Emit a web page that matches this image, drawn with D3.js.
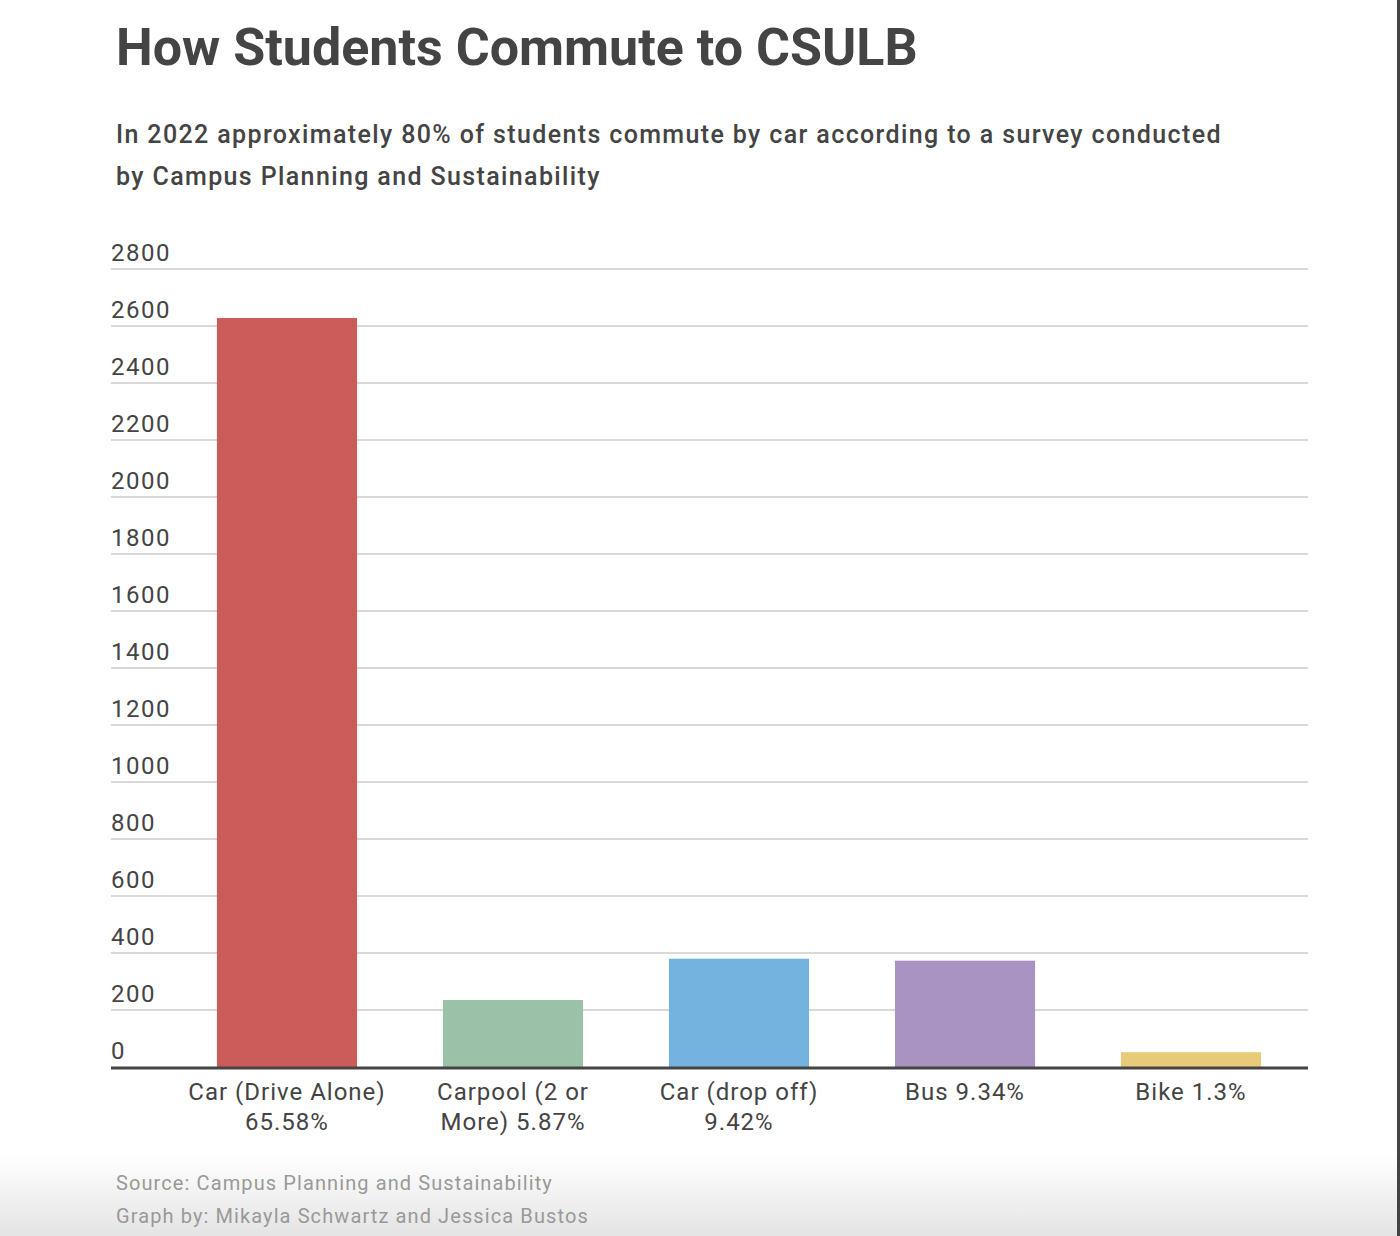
<!DOCTYPE html>
<html><head><meta charset="utf-8">
<script src="https://cdn.jsdelivr.net/npm/d3@7"></script>
<style>
html,body{margin:0;padding:0;background:#fff;}
svg{display:block;font-family:Roboto,"Noto Sans",sans-serif;}
</style></head>
<body>
<svg id="chart" width="1400" height="1236"></svg>
<script>
const categories = ["Car (Drive Alone)\n65.58%", "Carpool (2 or\nMore) 5.87%", "Car (drop off)\n9.42%", "Bus 9.34%", "Bike 1.3%"];
const values = [2628, 235, 380, 373, 52];
const colors = ["#cc5c5a", "#9bc2a8", "#74b3e0", "#a893c2", "#e8cb78"];
const yTicks = [0, 200, 400, 600, 800, 1000, 1200, 1400, 1600, 1800, 2000, 2200, 2400, 2600, 2800];
const title = "How Students Commute to CSULB";
const subtitle = ["In 2022 approximately 80% of students commute by car according to a survey conducted", "by Campus Planning and Sustainability"];
const footer = ["Source: Campus Planning and Sustainability", "Graph by: Mikayla Schwartz and Jessica Bustos"];

const svg = d3.select("#chart");
const defs = svg.append("defs");
const grad = defs.append("linearGradient").attr("id","bg").attr("x1",0).attr("y1",0).attr("x2",0).attr("y2",1);
grad.append("stop").attr("offset","0").attr("stop-color","#ffffff");
grad.append("stop").attr("offset","1").attr("stop-color","#e4e4e4");
svg.append("rect").attr("x",0).attr("y",1155).attr("width",1400).attr("height",81).attr("fill","url(#bg)");
svg.append("rect").attr("x",1397).attr("y",0).attr("width",3).attr("height",1236).attr("fill","#444");

svg.append("text").attr("x",116).attr("y",65).attr("fill","#444").attr("font-size",52).attr("font-weight",700).text(title);
svg.selectAll("text.sub").data(subtitle).join("text").attr("class","sub")
  .attr("x",116).attr("y",(d,i)=>143+i*42).attr("fill","#444").attr("font-size",25).attr("font-weight",500)
  .attr("letter-spacing",1.37).text(d=>d);

const left = 111, right = 1308;
const y = d3.scaleLinear().domain([0,2800]).range([1067,269]);
const x = d3.scaleBand().domain(categories).range([174,1304]).paddingInner(0.38).paddingOuter(0.19);

const grid = svg.append("g");
grid.selectAll("line").data(yTicks.filter(d=>d>0)).join("line")
  .attr("x1",left).attr("x2",right).attr("y1",d=>y(d)).attr("y2",d=>y(d))
  .attr("stroke","#d9d9d9").attr("stroke-width",2);
grid.selectAll("text").data(yTicks).join("text")
  .attr("x",left).attr("y",d=>y(d)-8).attr("fill","#444").attr("font-size",24)
  .attr("letter-spacing",1.5).text(d=>d);

svg.append("g").selectAll("rect").data(values).join("rect")
  .attr("x",(d,i)=>x(categories[i])).attr("width",x.bandwidth())
  .attr("y",d=>y(d)).attr("height",d=>y(0)-y(d))
  .attr("fill",(d,i)=>colors[i]);

svg.append("line").attr("x1",left).attr("x2",right).attr("y1",y(0)+1).attr("y2",y(0)+1)
  .attr("stroke","#444").attr("stroke-width",3);

const xl = svg.append("g").selectAll("text").data(categories).join("text")
  .attr("x",d=>x(d)+x.bandwidth()/2).attr("y",1100).attr("text-anchor","middle")
  .attr("fill","#444").attr("font-size",24).attr("letter-spacing",1);
xl.each(function(d){
  const t = d3.select(this);
  d.split("\n").forEach((line,i)=>{
    t.append("tspan").attr("x",x(d)+x.bandwidth()/2).attr("dy",i===0?0:30).text(line);
  });
});

svg.selectAll("text.foot").data(footer).join("text").attr("class","foot")
  .attr("x",116).attr("y",(d,i)=>1190+i*33).attr("fill","#999").attr("font-size",20)
  .attr("letter-spacing",1.1).text(d=>d);
</script>
</body></html>
